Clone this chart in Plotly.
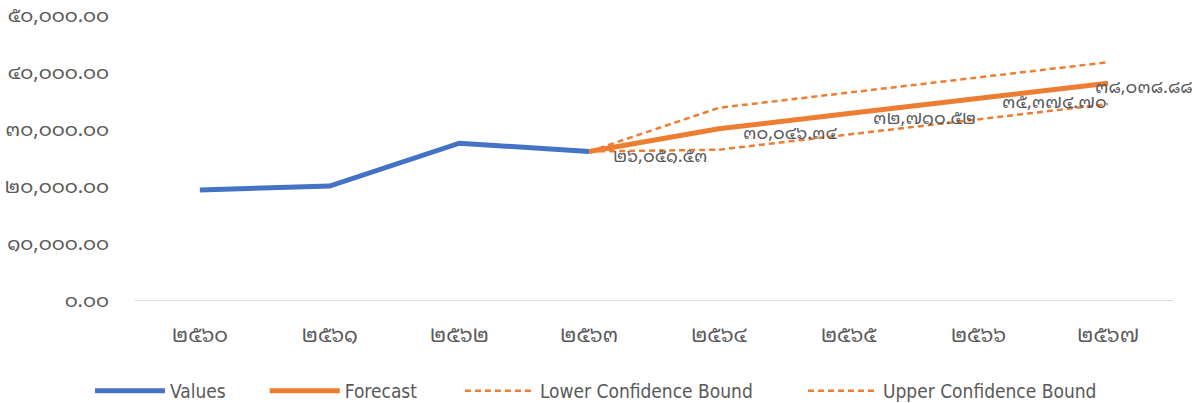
import plotly.graph_objects as go

categories = ["๒๕๖๐", "๒๕๖๑", "๒๕๖๒", "๒๕๖๓", "๒๕๖๔", "๒๕๖๕", "๒๕๖๖", "๒๕๖๗"]
values = [19300, 20000, 27500, 26051.53]
forecast_x = ["๒๕๖๓", "๒๕๖๔", "๒๕๖๕", "๒๕๖๖", "๒๕๖๗"]
forecast = [26051.53, 30046.34, 32710.52, 35374.70, 38038.88]
lower_bound = [26051.53, 26370, 29035, 31700, 34365]
upper_bound = [26051.53, 33720, 36385, 39050, 41715]
y_tickvals = [0, 10000, 20000, 30000, 40000, 50000]
y_ticktext = ["๐.๐๐", "๑๐,๐๐๐.๐๐", "๒๐,๐๐๐.๐๐", "๓๐,๐๐๐.๐๐", "๔๐,๐๐๐.๐๐", "๕๐,๐๐๐.๐๐"]

THAI = str.maketrans("0123456789", "๐๑๒๓๔๕๖๗๘๙")
def thai(v):
    return f"{v:,.2f}".translate(THAI)

BLUE = "#4472C4"
ORANGE = "#ED7D31"
GREY = "#595959"
FONT = "Noto Sans Thai Looped, Noto Sans Thai, Tahoma, sans-serif"
LEGEND_FONT = dict(family="DejaVu Sans Condensed, Liberation Sans, sans-serif", size=19, color=GREY)

fig = go.Figure()
fig.add_trace(go.Scatter(x=categories[:len(values)], y=values, name="Values", mode="lines",
                         line=dict(color=BLUE, width=5), legend="legend"))
fig.add_trace(go.Scatter(x=forecast_x, y=forecast, name="Forecast", mode="lines",
                         line=dict(color=ORANGE, width=5), legend="legend2"))
fig.add_trace(go.Scatter(x=forecast_x, y=lower_bound, name="Lower Confidence Bound", mode="lines",
                         line=dict(color=ORANGE, width=2.5, dash="6px,4px"), legend="legend3"))
fig.add_trace(go.Scatter(x=forecast_x, y=upper_bound, name="Upper Confidence Bound", mode="lines",
                         line=dict(color=ORANGE, width=2.5, dash="6px,4px"), legend="legend4"))

annotations = []
for i, (xv, yv) in enumerate(zip(forecast_x, forecast)):
    last = i == len(forecast) - 1
    annotations.append(dict(x=xv, y=yv, xref="x", yref="y", text=thai(yv), showarrow=False,
                            xanchor="left", yanchor="middle",
                            xshift=-15 if last else 22, yshift=-2,
                            font=dict(family=FONT, size=18, color=GREY)))

def leg(xpos):
    return dict(orientation="h", x=xpos, xanchor="left", y=-0.319, yanchor="middle",
                itemwidth=70, font=LEGEND_FONT, bgcolor="rgba(0,0,0,0)")

fig.update_layout(
    width=1203, height=403,
    margin=dict(l=135, r=30, t=15, b=103, autoexpand=False),
    paper_bgcolor="white", plot_bgcolor="white",
    showlegend=True,
    legend=leg(-0.0434), legend2=leg(0.125), legend3=leg(0.313), legend4=leg(0.6435),
    annotations=annotations,
    font=dict(family=FONT, color=GREY),
)
fig.update_xaxes(type="category", categoryorder="array", categoryarray=categories,
                 range=[-0.5, len(categories) - 0.5], automargin=False,
                 showgrid=False, showline=True, linecolor="#D9D9D9", linewidth=1,
                 ticks="", tickfont=dict(family=FONT, size=21, color=GREY),
                 ticklabelstandoff=16, zeroline=False, ticklabeloverflow="allow")
fig.update_yaxes(range=[0, 50000], tickvals=y_tickvals, ticktext=y_ticktext, automargin=False,
                 showgrid=False, showline=False, zeroline=False, ticks="",
                 tickfont=dict(family=FONT, size=20, color=GREY), ticklabelstandoff=25,
                 ticklabeloverflow="allow")

fig.write_html("out.html", config={"displayModeBar": False},
               post_script="document.body.style.margin='0';")
